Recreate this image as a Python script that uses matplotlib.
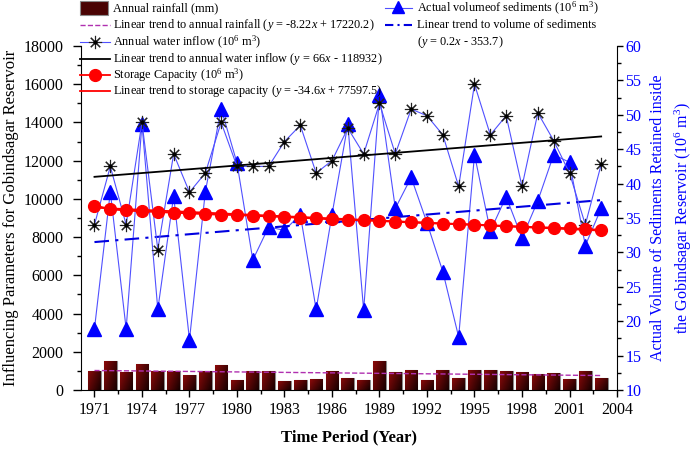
import numpy as np
import matplotlib
matplotlib.use('Agg')
import matplotlib.pyplot as plt
from matplotlib.lines import Line2D
from matplotlib.patches import Rectangle
from matplotlib.ticker import MultipleLocator

plt.rcParams['font.family'] = 'Liberation Serif'
plt.rcParams['mathtext.fontset'] = 'custom'
plt.rcParams['mathtext.rm'] = 'Liberation Serif'
plt.rcParams['mathtext.it'] = 'Liberation Serif:italic'

# data
years = list(range(1971, 2004))
rainfall = [1000, 1510, 950, 1350, 980, 1000, 770, 1000, 1300, 510, 1000, 1000, 460, 510, 560, 1000,
            630, 510, 1510, 965, 1035, 510, 1035, 615, 1050, 1020, 980, 930, 825, 910, 560, 1000, 615]
inflow = [8650, 11700, 8650, 14000, 7350, 12350, 10350, 11350, 14000, 11700, 11700, 11700, 13000,
          13850, 11350, 12000, 13700, 12350, 15000, 12350, 14700, 14350, 13350, 10650, 16000, 13350,
          14350, 10650, 14500, 13050, 11350, 8650, 11800]
storage = [9650, 9460, 9400, 9350, 9320, 9280, 9245, 9210, 9175, 9160, 9120, 9090, 9050, 9020, 8980,
           8930, 8910, 8880, 8845, 8810, 8770, 8740, 8700, 8685, 8650, 8615, 8580, 8545, 8510, 8490,
           8455, 8420, 8370]
sediment = [18.9, 38.8, 18.9, 48.7, 21.7, 38.2, 17.3, 38.8, 50.9, 43.0, 28.9, 33.7, 33.2, 35.5, 21.7,
            35.5, 48.6, 21.6, 52.9, 36.4, 40.9, 34.3, 27.2, 17.7, 44.2, 33.1, 38.1, 32.1, 37.5, 44.2,
            43.1, 31.0, 36.4]

trend_years = [1971, 2003]
rainfall_trend = [1019, 756]
inflow_trend = [11154, 13266]
storage_trend = [9540, 8340]
sediment_trend = [31.5, 37.6]

W, H = 699, 451
fig = plt.figure(figsize=(6.99, 4.51), dpi=100)
ax = fig.add_axes([0.1159, 0.1353, 0.7668, 0.7627])
ax2 = ax.twinx()

inflow_marker = dict(marker=(8, 2, 0), ms=9.5, mec='#222222', mew=0.8)
sed_dash = (0, (7, 3, 1.5, 3))

# rainfall bars with a dark red gradient
bars = ax.bar(years, rainfall, width=0.8, color='#5a0505', edgecolor='#8a8a8a', linewidth=0.8, zorder=2)
grad = np.linspace(0, 1, 64).reshape(1, -1) + np.linspace(0, 0.6, 64).reshape(-1, 1)
cmap = matplotlib.colors.LinearSegmentedColormap.from_list('rb', ['#150000', '#8c0a0a'])
for b in bars:
    x0, y0, w, h = b.get_x(), b.get_y(), b.get_width(), b.get_height()
    im = ax.imshow(grad[:, ::-1], cmap=cmap, extent=[x0, x0 + w, y0, y0 + h], aspect='auto',
                   origin='lower', zorder=2.5)
    im.set_clip_path(b)

ax.plot(trend_years, rainfall_trend, color='#b030b0', ls='--', lw=1.0, zorder=3)
ax.plot(years, inflow, color='#5050ff', lw=0.8, zorder=4, **inflow_marker)
ax.plot(years, inflow, ls='none', marker='o', ms=2, color='black', zorder=4)
ax.plot(trend_years, inflow_trend, color='black', lw=1.3, zorder=4)
ax.plot(years, storage, color='red', lw=1.5, marker='o', ms=8.5, mec='red', mfc='red', zorder=5)
ax.plot(trend_years, storage_trend, color='red', lw=1.3, zorder=5)

ax2.plot(years, sediment, color='#5050ff', lw=0.8, marker='^', ms=10, mfc='blue', mec='blue', zorder=4)
ax2.plot(trend_years, sediment_trend, color='#0000e0', lw=1.5, ls=sed_dash, zorder=4)

ax.set_xlim(1970.15, 2004)
ax.set_ylim(0, 18000)
ax2.set_ylim(10, 60)
ax.set_xticks(range(1971, 2005, 3))
ax.xaxis.set_minor_locator(MultipleLocator(1.5))
ax.yaxis.set_major_locator(MultipleLocator(2000))
ax.yaxis.set_minor_locator(MultipleLocator(1000))
ax2.yaxis.set_major_locator(MultipleLocator(5))
ax2.yaxis.set_minor_locator(MultipleLocator(2.5))

for a in (ax, ax2):
    a.spines['top'].set_visible(False)
    a.tick_params(which='minor', direction='out', length=3, width=1)
ax.tick_params(axis='y', which='major', direction='out', length=6, width=1, pad=6.5, labelsize=11.5)
ax.tick_params(axis='x', which='major', direction='out', length=5, width=1, pad=4, labelsize=11.5)
ax2.tick_params(axis='y', which='major', direction='out', length=4, width=1, pad=2, labelsize=11.5,
                labelcolor='blue')
ax2.spines['left'].set_visible(False)
ax2.spines['bottom'].set_visible(False)
ax.spines['right'].set_visible(False)
ax.set_zorder(ax2.get_zorder() + 1)
ax.patch.set_visible(False)

ax.set_xlabel('Time Period (Year)', fontsize=12, fontweight='bold', labelpad=8)
ax.set_ylabel('Influencing Parameters for Gobindsagar Reservoir', fontsize=12, labelpad=3)
ax2.set_ylabel('Actual Volume of Sediments Retained inside\nthe Gobindsagar Reservoir (10$^6$ m$^3$)',
               fontsize=11.5, color='blue', labelpad=6, linespacing=1.45)


# legend drawn by hand in pixel positions of the reference
def fx(x):
    return x / W


def fy(y):
    return 1 - y / H


def handle_line(x0, x1, y, **kw):
    fig.add_artist(Line2D([fx(x0), fx(x1)], [fy(y), fy(y)], transform=fig.transFigure, **kw))


def handle_marker(x, y, **kw):
    fig.add_artist(Line2D([fx(x)], [fy(y)], transform=fig.transFigure, ls='none', **kw))


def label(x, y, s):
    fig.text(fx(x), fy(y), s, fontsize=8.8, va='center', ha='left')


fig.add_artist(Rectangle((fx(80), fy(15)), fx(28), 14 / H, transform=fig.transFigure,
                         facecolor='#4a0303', edgecolor='#8a8a8a', lw=0.8))
label(113, 8, 'Annual rainfall (mm)')
handle_line(80, 110, 25, color='#b030b0', ls='--', lw=1.0)
label(113, 25, 'Linear trend to annual rainfall ($y$ = -8.22$x$ + 17220.2)')
handle_line(80, 110, 42, color='#5050ff', lw=0.8)
handle_marker(95, 42, **inflow_marker)
handle_marker(95, 42, marker='o', ms=2, color='black')
label(113, 42, 'Annual water inflow (10$^6$ m$^3$)')
handle_line(80, 110, 59, color='black', lw=1.3)
label(113, 59, 'Linear trend to annual water inflow ($y$ = 66$x$ - 118932)')
handle_line(80, 110, 75, color='red', lw=1.3)
handle_marker(95, 75, marker='o', ms=8.5, color='red')
label(113, 75, 'Storage Capacity (10$^6$ m$^3$)')
handle_line(80, 110, 91, color='red', lw=1.3)
label(113, 91, 'Linear trend to storage capacity ($y$ = -34.6$x$ + 77597.5)')

handle_line(385, 412, 8, color='#5050ff', lw=0.8)
handle_marker(398, 7, marker='^', ms=9, color='blue')
label(417, 8, 'Actual volumeof sediments (10$^6$ m$^3$)')
handle_line(385, 412, 25, color='#0000e0', lw=1.5, ls=(0, (4, 2, 1, 2)))
label(417, 25, 'Linear trend to volume of sediments')
label(417, 42, '($y$ = 0.2$x$ - 353.7)')

fig.savefig('out.png', dpi=100)
